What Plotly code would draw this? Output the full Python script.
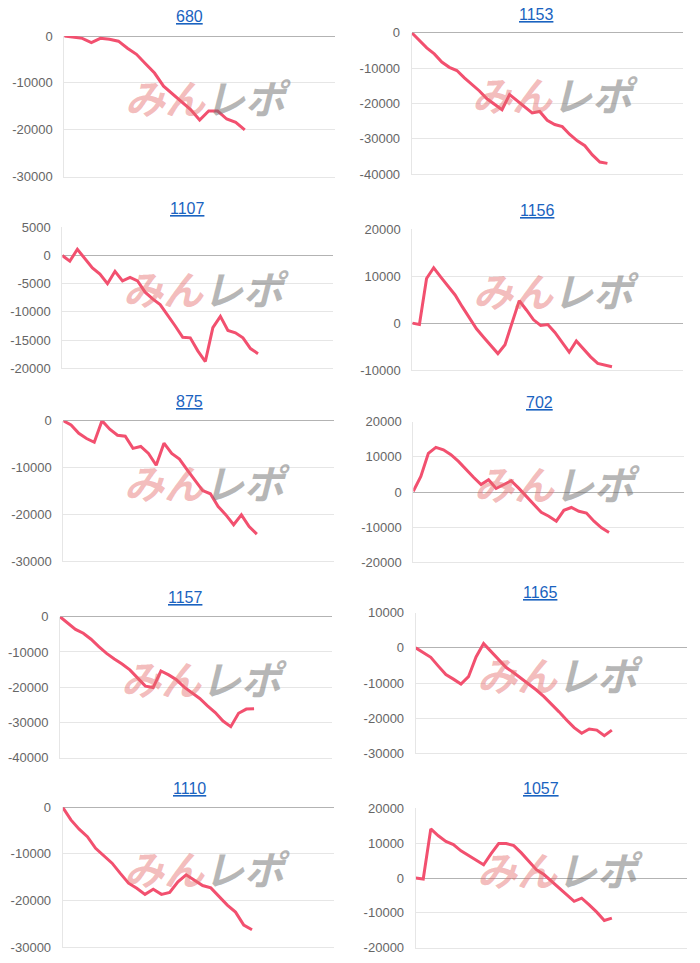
import plotly.graph_objects as go

# ---------------- data ----------------
titles = ["680", "1153", "1107", "1156", "875", "702", "1157", "1165", "1110", "1057"]

s680 = [0, -200, -500, -1400, -500, -700, -1100, -2600, -3900, -5900, -7900, -10700,
        -12300, -13900, -15700, -17900, -16000, -16000, -17700, -18400, -20000]
s1153 = [0, -2300, -4300, -6000, -8300, -9800, -10700, -12800, -14600, -16500, -18700,
         -20300, -21800, -17500, -19300, -21000, -22700, -22300, -24800, -26000, -26600,
         -28800, -30600, -32000, -34600, -36600, -37000]
s1107 = [0, -1000, 1100, -500, -2200, -3300, -5000, -2800, -4500, -3900, -4500, -6500,
         -7700, -8700, -10500, -12500, -14500, -14600, -16900, -18800, -12800, -10800,
         -13300, -13700, -14600, -16500, -17400]
s1156 = [0, -300, 9500, 11800, 9800, 7800, 6000, 3500, 1000, -1200, -3000, -4700, -6500,
         -4600, 0, 4800, 2800, 700, -500, -300, -2000, -4000, -6200, -3800, -5600, -7200,
         -8600, -9000, -9300]
s875 = [0, -900, -2700, -3800, -4600, 0, -1800, -3100, -3300, -5900, -5500, -7000, -9500,
        -4800, -7000, -8200, -10500, -12700, -14900, -15600, -18300, -20100, -22200,
        -20100, -22600, -24200]
s702 = [200, 4400, 11000, 12700, 12000, 10600, 8700, 6300, 4200, 2100, 3500, 1000, 2100,
        3200, 1100, -1100, -3600, -5800, -6900, -8300, -5200, -4400, -5500, -6000, -8300,
        -10200, -11500]
s1157 = [0, -1700, -3600, -4700, -6400, -8500, -10400, -12000, -13400, -15100, -17300,
         -19700, -20100, -15400, -16500, -17900, -20000, -21700, -23200, -25300, -27200,
         -29600, -31200, -27400, -26200, -26100]
s1165 = [0, -1400, -2700, -5200, -7600, -8900, -10300, -8200, -2600, 1200, -1100, -3500,
         -5600, -7100, -8700, -10300, -12000, -13900, -16000, -18200, -20500, -22700,
         -24300, -23100, -23400, -25000, -23400]
s1110 = [0, -2700, -4700, -6300, -8800, -10300, -12000, -14200, -16300, -17400, -18700,
         -17600, -18700, -18300, -16000, -14500, -15600, -16800, -17300, -19200, -21000,
         -22500, -25300, -26300]
s1057 = [0, -300, 14100, 12100, 10500, 9600, 7800, 6500, 5300, 3800, 7000, 9900, 9900,
         9300, 7200, 4800, 2400, 1000, -1000, -2900, -4800, -6700, -5800, -7700, -9800,
         -12200, -11500]

series = [s680, s1153, s1107, s1156, s875, s702, s1157, s1165, s1110, s1057]

# y tick values for each panel
ticks680 = [0, -10000, -20000, -30000]
ticks1153 = [0, -10000, -20000, -30000, -40000]
ticks1107 = [5000, 0, -5000, -10000, -15000, -20000]
ticks1156 = [20000, 10000, 0, -10000]
ticks875 = [0, -10000, -20000, -30000]
ticks702 = [20000, 10000, 0, -10000, -20000]
ticks1157 = [0, -10000, -20000, -30000, -40000]
ticks1165 = [10000, 0, -10000, -20000, -30000]
ticks1110 = [0, -10000, -20000, -30000]
ticks1057 = [20000, 10000, 0, -10000, -20000]
ticksets = [ticks680, ticks1153, ticks1107, ticks1156, ticks875, ticks702,
            ticks1157, ticks1165, ticks1110, ticks1057]

# ---------------- layout (pixel boxes of each plot area) ----------------
W, H = 700, 963
# (left, right, top, bottom) in pixels
boxes = [
    (64.3, 335.0, 36.0, 176.7),
    (411.7, 682.7, 32.7, 174.0),
    (62.3, 333.3, 227.3, 368.3),
    (412.3, 683.3, 229.3, 370.0),
    (63.3, 334.3, 420.7, 561.3),
    (413.3, 684.3, 421.7, 562.3),
    (60.0, 331.7, 616.7, 757.7),
    (415.7, 687.3, 612.7, 753.3),
    (62.7, 334.3, 807.3, 947.0),
    (415.7, 687.3, 808.3, 947.7),
]
title_pos = [(190, 16.7), (536.7, 14), (187.7, 208.3), (537.7, 210), (189, 401),
             (539, 402.3), (185.7, 597.3), (540.7, 592.7), (189, 788.3), (540.7, 788.3)]

LINE = "#f2506f"
GRID = "#e6e6e6"
ZERO = "#b3b3b3"
TICKC = "#666666"
TITLEC = "#1a63c0"

fig = go.Figure()
layout = dict(
    width=W, height=H, autosize=False,
    margin=dict(l=0, r=0, t=0, b=0),
    paper_bgcolor="white", plot_bgcolor="white",
    showlegend=False,
    font=dict(family="Liberation Sans, Arial, sans-serif", color=TICKC),
)
annotations = []

for i, (vals, tks, box, tp, ttl) in enumerate(zip(series, ticksets, boxes, title_pos, titles)):
    n = len(vals)
    xs = list(range(n))
    sfx = "" if i == 0 else str(i + 1)
    xa, ya = "x" + sfx, "y" + sfx
    fig.add_trace(go.Scatter(x=xs, y=vals, mode="lines", xaxis=xa, yaxis=ya,
                             line=dict(color=LINE, width=3), hoverinfo="skip"))
    l, r, t, b = box
    layout["xaxis" + sfx] = dict(
        domain=[l / W, r / W], anchor=ya, range=[0, n + 9],
        showgrid=False, zeroline=False, showticklabels=False, ticks="",
        showline=True, linecolor=GRID, linewidth=1, fixedrange=True, automargin=False,
    )
    layout["yaxis" + sfx] = dict(
        domain=[1 - b / H, 1 - t / H], anchor=xa, range=[min(tks), max(tks)],
        tickvals=tks, ticktext=[str(v) for v in tks],
        showgrid=True, gridcolor=GRID, gridwidth=1,
        zeroline=True, zerolinecolor=ZERO, zerolinewidth=1,
        showline=True, linecolor=GRID, linewidth=1,
        ticks="outside", ticklen=8, tickcolor="rgba(0,0,0,0)",
        tickfont=dict(size=13, color=TICKC, family="Liberation Sans, Arial, sans-serif"),
        fixedrange=True, automargin=False,
    )
    # title
    annotations.append(dict(
        xref="paper", yref="paper", x=tp[0] / W, y=1 - tp[1] / H,
        xanchor="center", yanchor="middle", showarrow=False,
        text="<u>" + ttl + "</u>",
        font=dict(size=16, color=TITLEC, family="Liberation Sans, Arial, sans-serif"),
    ))
    # watermark
    cx = (l + r) / 2 + 8
    cy = t + 61
    annotations.append(dict(
        xref="paper", yref="paper", x=cx / W, y=1 - cy / H,
        xanchor="center", yanchor="middle", showarrow=False,
        text="<i><b><span style='color:rgba(228,105,105,0.45)'>みん</span>"
             "<span style='color:rgba(110,110,110,0.5)'>レポ</span></b></i>",
        font=dict(size=40, family="Noto Sans CJK JP, sans-serif"),
    ))

layout["annotations"] = annotations
fig.update_layout(**layout)
fig.write_html("out.html", config={"displayModeBar": False})
